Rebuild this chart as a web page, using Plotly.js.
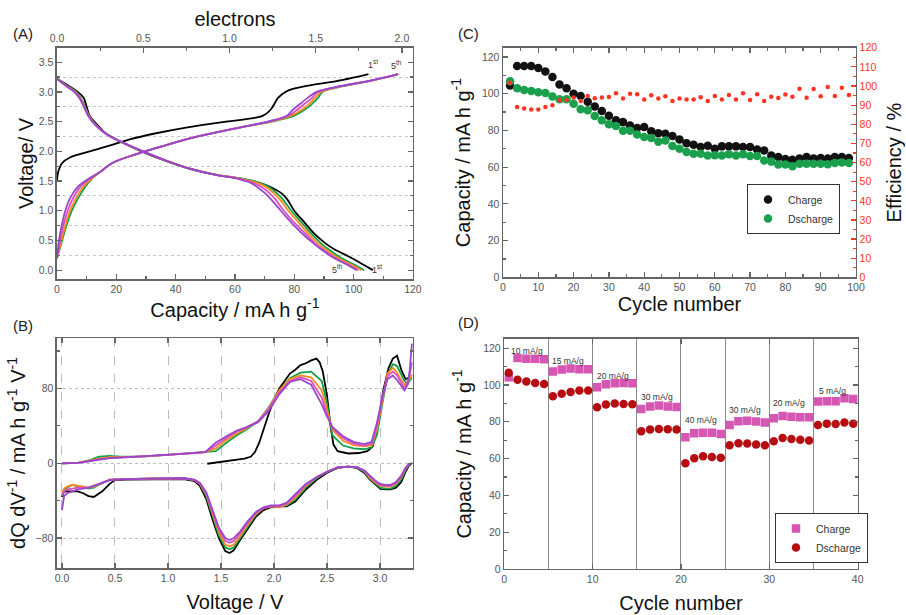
<!DOCTYPE html>
<html><head><meta charset="utf-8">
<script src="https://cdn.plot.ly/plotly-3.0.1.min.js"></script>
<style>html,body{margin:0;padding:0;background:#fff}#chart{width:906px;height:615px}</style>
</head><body><div id="chart"></div>
<script>
// ---------- Panel A : voltage profiles ----------
const cycleNames = ['1st','2nd','3rd','4th','5th'];
const cycleColors = ['#000000','#11a04a','#ff8a1c','#d94fc0','#9a46cc'];
const electronTicks = [0,0.5,1.0,1.5,2.0];
// discharge: shared voltage grid, capacity per cycle
const dischV = [3.22,3.1,3.0,2.9,2.75,2.6,2.45,2.3,2.15,2.0,1.85,1.7,1.6,1.55,1.5,1.45,1.4,1.3,1.2,1.0,0.8,0.6,0.45,0.35,0.2,0.1,0.0];
const dischCap1 = [0,4,7,9,10,11,13.5,16.5,22,28.5,36,45,54,61,66,69.5,72,75.5,77.5,80,83.5,87,90.5,93.5,99.5,103,106.5];
const dischCap2 = [0,3.5,6.5,8,9.5,10.8,13,16.5,22,29,36.5,45.5,54.5,61.5,66.5,69.5,71.5,74,76,79,82.5,86,89,91.5,96,100,103.5];
const dischCap3 = [0,3.3,6.2,7.8,9.3,10.7,13,16.5,22,29,36.5,45.5,54.5,61,65.5,68.5,70.5,73,75,78,81.5,85,88,90.5,95,99,102.5];
const dischCap4 = [0,3.2,6,7.6,9.2,10.6,12.9,16.4,22,29,36.5,45.5,54,60.5,64.5,67,69,71.5,73.5,76.5,80,84,87,89.5,94,98,101.5];
const dischCap5 = [0,3.1,5.8,7.5,9.1,10.5,12.8,16.3,22,29,36.5,45.5,54,60,63.5,66,67.5,70,72,75.5,79,83,86.5,89,93.5,97.5,101];
// charge of 1st cycle
const chg1V   = [1.5,1.65,1.8,1.9,2.0,2.1,2.2,2.3,2.4,2.5,2.55,2.6,2.7,2.8,2.9,3.0,3.05,3.1,3.2,3.3];
const chg1Cap = [0,0.4,1.7,4.5,11,18,24.5,33,43.5,57,65,69.5,72,73.3,74.5,77,79.5,84,96,105];
// charge of cycles 2-5: shared voltage grid
const chgV    = [0.2,0.4,0.6,0.8,1.0,1.2,1.4,1.55,1.65,1.8,1.95,2.1,2.25,2.4,2.5,2.6,2.7,2.8,2.9,3.0,3.1,3.2,3.3];
const chgCap2 = [0,1.2,2.3,3.5,5,7,9.5,12,14.5,18.5,26.5,36.5,47.5,61.5,72.5,80,83.5,86,88,89.5,97,107,115];
const chgCap3 = [0,1,2,3.1,4.4,6.3,8.8,11.8,14.5,18.5,26.5,36.5,47.5,61.5,72,79,82.5,85,87,89,96.5,106.8,115];
const chgCap4 = [0,0.7,1.5,2.4,3.6,5.3,7.9,11.5,14.5,18.5,26.5,36.5,47.5,61.5,71.5,78,81,83.5,86,88,96,106.6,115];
const chgCap5 = [0,0.4,1,1.8,2.8,4.3,7,11,14.5,18.5,26.5,36.5,47.5,61.5,71,77.5,79.5,82,84.5,87.5,96,106.5,115];

// ---------- Panel B : dQ/dV ----------
const bChgV = [0,0.15,0.25,0.35,0.45,0.55,0.8,1.0,1.2,1.35,1.45,1.55,1.65,1.75,1.85,1.95,2.05,2.15,2.25,2.35,2.45,2.5,2.55,2.65,2.75,2.85,2.92,2.97,3.02,3.07,3.12,3.16,3.2,3.23,3.26,3.28,3.3];
const bChg2 = [0,0.5,3,7,8,7,7.5,9,10.5,11.5,13,22,30,37,45,60,78,91,97,98,88,64,30,19,16,15,17,30,62,95,106,104,95,88,85,88,92];
const bChg3 = [0,0.5,2.5,5,6.5,6.5,7.5,9,10.5,12,16,25,32,38,45,59,78,90,94,92,78,56,36,24,19.5,18,19,36,68,96,102,97,89,84,86,90,95];
const bChg4 = [0,0.5,2,4.5,5.5,6,7.5,9,10.5,12,19,27,34,39,45,58,76,88,92,88,70,52,38,27,21,19,21,40,70,93,98,94,86,80,88,95,108];
const bChg5 = [0,0.5,2,4,5.5,6,7.5,9,10.5,12,22,29,35,39,44,56,74,87,90,84,63,50,39,29,23,20.5,23,43,70,90,94,89,83,78,84,100,128];
const bChg1V = [1.37,1.5,1.62,1.72,1.78,1.82,1.86,1.9,1.95,2.0,2.05,2.1,2.15,2.2,2.25,2.3,2.35,2.4,2.43,2.46,2.5,2.53,2.56,2.6,2.7,2.8,2.88,2.93,2.98,3.03,3.08,3.12,3.16,3.2,3.24,3.28];
const bChg1  = [-0.5,1.5,3.5,5,7,12,22,36,53,68,80,88,96,100,105,107,110,112,108,98,72,42,20,13,10.5,11,13,18,40,78,102,112,115,100,90,92];
const bDisV = [3.3,3.27,3.24,3.2,3.15,3.1,3.05,3.0,2.95,2.9,2.85,2.78,2.7,2.6,2.5,2.4,2.3,2.2,2.12,2.05,1.97,1.9,1.83,1.75,1.68,1.62,1.58,1.54,1.48,1.42,1.36,1.3,1.25,1.15,1.0,0.8,0.6,0.5,0.45,0.38,0.3,0.25,0.2,0.15,0.1,0.05,0.02,0.0];
const bDis1 = [0,-3,-9,-20,-26,-28,-28,-27,-22,-17,-10,-5,-3.5,-5,-10,-18,-28,-41,-46,-46,-47,-50,-57,-70,-82,-93,-96,-94,-80,-60,-38,-24,-19,-17,-17,-17.5,-17.5,-18,-22,-30,-36,-35,-32,-30,-30,-30,-30,-36];
const bDis2 = [0,-2,-7,-17,-24,-27,-27,-26,-21,-16,-9,-4.5,-3.5,-4.5,-9,-16,-26,-39,-45,-46,-46,-48,-55,-68,-80,-90,-92,-90,-77,-57,-35,-22,-18,-16,-16,-16.5,-17,-17,-18,-21,-26,-27,-25,-25,-23,-26,-28,-35];
const bDis3 = [0,-1.5,-6,-15,-22,-25,-25,-24,-20,-15,-8,-4,-3.5,-4.5,-9,-15,-24,-37,-44,-47,-46,-48,-54,-66,-78,-87,-89,-87,-74,-54,-33,-22,-18,-16,-16,-16.5,-17,-17,-17.5,-21,-25,-26,-25,-24,-23,-25,-27,-32];
const bDis4 = [0,-1.5,-5,-14,-21,-24,-24,-23,-19,-14,-8,-4,-3.5,-4.5,-9,-15,-23,-35,-43,-46,-46,-48,-53,-64,-75,-83,-85,-83,-71,-52,-32,-21,-18,-16,-16,-16.5,-17,-17,-17.5,-21,-24,-26,-26,-26,-27,-28,-30,-34];
const bDis5 = [0,-1,-5,-13,-20,-23,-23,-22,-18,-13,-7.5,-4,-3.5,-4.5,-9,-15,-22,-33,-42,-45,-45,-47,-52,-62,-73,-80,-82,-80,-69,-50,-31,-21,-17.5,-16,-16,-16.5,-17,-17.5,-18,-21,-24,-26,-27,-28,-30,-32,-35,-50];

// ---------- Panel C : cycling ----------
const cCycles = [2,4,6,8,10,12,14,16,18,20,22,24,26,28,30,32,34,36,38,40,42,44,46,48,50,52,54,56,58,60,62,64,66,68,70,72,74,76,78,80,82,84,86,88,90,92,94,96,98];
const cCharge = [104.5,115,115,115,114,112,109,105,103,100,98.7,95.6,93,90.5,88,85.5,84.5,82.7,81.3,81.8,79.5,78.5,78.2,77,75,73,72.2,71,71.6,70,71.3,71.3,71.3,71,71,69.6,69,66.4,65.5,64.4,64,64.7,65.5,64.7,65,64.7,65.5,65.5,65];
const cDischarge = [106.7,103,102,101.5,100.7,100.4,98.5,97,97,94.5,91.5,91,87.8,85.5,83.3,82.4,79.8,79.8,77.8,76.4,75.8,73.8,74.5,71.5,70,68.2,67.3,67.3,66.4,66.5,66.4,67,66.4,67,66,66,63.6,63,61.5,61.5,60.5,61.8,61.8,61.8,61.8,61.6,62.2,62.5,62.2];
const cEfficiency = [101.7,89,88.3,87.7,87.7,89,90,92.5,92.7,94,92.2,94.8,93.6,94,94.3,96.2,93.4,96,95.7,93,95.1,93.4,94.6,92.2,93.4,93,92.9,94.1,92.2,94.8,92.9,95.3,92.9,96.2,92.7,95.7,92.2,94.4,93.7,95.5,94.4,98.6,93.9,98.4,94.6,99.5,94.8,99.1,95.3];

// ---------- Panel D : rate capability ----------
const dCycles = [0.5,1.5,2.5,3.5,4.5,5.5,6.5,7.5,8.5,9.5,10.5,11.5,12.5,13.5,14.5,15.5,16.5,17.5,18.5,19.5,20.5,21.5,22.5,23.5,24.5,25.5,26.5,27.5,28.5,29.5,30.5,31.5,32.5,33.5,34.5,35.5,36.5,37.5,38.5,39.5];
const dCharge = [104.2,114.7,114.3,114.3,114,107.3,108.4,108.9,108.6,108.6,98.8,100.4,101,101.1,101,87,88.3,88.8,88.3,88.1,71.6,73.8,74.1,74,73.4,78.3,80.3,80.5,80.1,79.6,81.9,83.2,82.8,82.5,82.5,91,91.2,91.2,92.8,92.4];
const dDischarge = [106.6,102.8,101.9,101.1,100.6,93.9,95.2,96.2,97,97,87.9,89.4,89.9,89.7,89.5,74.9,75.8,76.1,75.9,75.8,57.5,60.2,61.3,60.9,60.5,67.2,68.3,68.2,67.6,67.2,69.4,71.2,70.7,70.3,69.8,78.3,79,78.8,79.6,79];
const rateLabels = ['10 mA/g','15 mA/g','20 mA/g','30 mA/g','40 mA/g','30 mA/g','20 mA/g','5 mA/g'];
const rateLabelX = [2.6,7.2,12.3,17.3,22.3,27.2,32.2,37.2];
const rateLabelY = [118.7,113,105,93.7,81.2,86.6,90.3,97];

// ---------- build ----------
const FONT = 'Liberation Sans, Arial, sans-serif';
const TICKC = '#555';
const LINEC = '#666';
const traces = [];
const dischCaps = [dischCap1,dischCap2,dischCap3,dischCap4,dischCap5];
const chgCaps = [chg1Cap,chgCap2,chgCap3,chgCap4,chgCap5];
// register the top "electrons" axis (no visible marks)
traces.push({x: electronTicks, y: electronTicks.map(()=>null), xaxis:'x2', yaxis:'y', mode:'lines', showlegend:false, hoverinfo:'skip', name:'electrons'});
for (let i = 0; i < 5; i++) {
  traces.push({x: dischCaps[i], y: dischV, xaxis:'x', yaxis:'y', mode:'lines', line:{color:cycleColors[i], width:1.8, shape:'spline'}, showlegend:false, name:cycleNames[i]+' discharge'});
  traces.push({x: chgCaps[i], y: i===0 ? chg1V : chgV, xaxis:'x', yaxis:'y', mode:'lines', line:{color:cycleColors[i], width:1.8, shape:'spline'}, showlegend:false, name:cycleNames[i]+' charge'});
}
const bChgs = [bChg1,bChg2,bChg3,bChg4,bChg5];
const bDiss = [bDis1,bDis2,bDis3,bDis4,bDis5];
for (let i = 0; i < 5; i++) {
  traces.push({x: i===0 ? bChg1V : bChgV, y: bChgs[i], xaxis:'x3', yaxis:'y3', mode:'lines', line:{color:cycleColors[i], width:1.8}, showlegend:false, name:cycleNames[i]+' charge'});
  traces.push({x: bDisV, y: bDiss[i], xaxis:'x3', yaxis:'y3', mode:'lines', line:{color:cycleColors[i], width:1.8}, showlegend:false, name:cycleNames[i]+' discharge'});
}
traces.push({x:cCycles, y:cEfficiency, xaxis:'x4', yaxis:'y5', mode:'markers', marker:{color:'#ff3322', size:4.5, symbol:'circle'}, showlegend:false, name:'Efficiency'});
traces.push({x:cCycles, y:cCharge, xaxis:'x4', yaxis:'y4', mode:'markers', marker:{color:'#111', size:8.5, symbol:'circle'}, name:'Charge', legend:'legend'});
traces.push({x:cCycles, y:cDischarge, xaxis:'x4', yaxis:'y4', mode:'markers', marker:{color:'#1aa04c', size:8.5, symbol:'circle'}, name:'Dscharge', legend:'legend'});
traces.push({x:dCycles, y:dCharge, xaxis:'x5', yaxis:'y6', mode:'markers', marker:{color:'#d656b4', size:8.5, symbol:'square'}, name:'Charge', legend:'legend2'});
traces.push({x:dCycles, y:dDischarge, xaxis:'x5', yaxis:'y6', mode:'markers', marker:{color:'#b50d12', size:8.5, symbol:'circle'}, name:'Dscharge', legend:'legend2'});

const tickF = {family:FONT, size:10.5, color:TICKC};
const titleF = {family:FONT, size:20, color:'#111'};
function ax(o){
  return Object.assign({showline:true, linecolor:LINEC, linewidth:1.5, ticks:'inside', ticklen:5, tickcolor:LINEC, tickwidth:1.2,
    tickfont:tickF, zeroline:false, showgrid:false, fixedrange:true}, o);
}
const dA = [0.0629,0.4558], dC = [0.5552,0.9448], dD = [0.5566,0.9467];
const layout = {
  width:906, height:615, margin:{l:0,r:0,t:0,b:0}, paper_bgcolor:'#fff', plot_bgcolor:'#fff',
  font:{family:FONT},
  xaxis: ax({domain:dA, anchor:'y', range:[0,120], dtick:20, minor:{dtick:10, ticks:'inside', ticklen:3, tickcolor:LINEC},
    title:{text:'Capacity / mA h g<sup>-1</sup>', font:titleF, standoff:4}}),
  xaxis2: ax({overlaying:'x', anchor:'y', side:'top', range:[0,2.064], dtick:0.5, tickformat:'.1f',
    minor:{dtick:0.25, ticks:'inside', ticklen:3, tickcolor:LINEC}, title:{text:'electrons', font:titleF, standoff:0}}),
  yaxis: ax({domain:[0.5463,0.922], anchor:'x', range:[-0.15,3.74], dtick:0.5, tickformat:'.1f', mirror:'ticks',
    minor:{dtick:0.25, ticks:'inside', ticklen:3, tickcolor:LINEC, showgrid:true, gridcolor:'#c8c8c8', griddash:'dot', gridwidth:1},
    title:{text:'Voltage/ V', font:titleF, standoff:0}}),
  xaxis3: ax({domain:dA, anchor:'y3', range:[-0.047,3.31], dtick:0.5, tickformat:'.1f', mirror:'ticks',
    showgrid:true, gridcolor:'#bdbdbd', griddash:'dash', gridwidth:1,
    title:{text:'Voltage / V', font:titleF, standoff:12}}),
  yaxis3: ax({domain:[0.0764,0.4504], anchor:'x3', range:[-112,134], dtick:80, mirror:'ticks',
    minor:{dtick:40, ticks:'inside', ticklen:3, tickcolor:LINEC},
    showgrid:true, gridcolor:'#bdbdbd', griddash:'dot', gridwidth:1,
    title:{text:'dQ dV<sup>-1</sup> / mA h g<sup>-1</sup> V<sup>-1</sup>', font:titleF, standoff:4}}),
  xaxis4: ax({domain:dC, anchor:'y4', range:[0,100], dtick:10, mirror:'ticks',
    minor:{dtick:5, ticks:'inside', ticklen:3, tickcolor:LINEC},
    title:{text:'Cycle number', font:titleF, standoff:4}}),
  yaxis4: ax({domain:[0.549,0.9224], anchor:'x4', range:[0,125], dtick:20,
    minor:{dtick:10, ticks:'inside', ticklen:3, tickcolor:LINEC},
    title:{text:'Capacity / mA h g<sup>-1</sup>', font:titleF, standoff:6}}),
  yaxis5: ax({overlaying:'y4', anchor:'x4', side:'right', range:[0,120], dtick:10,
    tickcolor:'#ff3322', tickfont:{family:FONT, size:10.5, color:'#ff3322'},
    minor:{dtick:5, ticks:'inside', ticklen:3, tickcolor:'#ff3322'},
    title:{text:'Efficiency / %', font:titleF, standoff:10}}),
  xaxis5: ax({domain:dD, anchor:'y6', range:[0,40], dtick:10, mirror:'ticks',
    showgrid:true, gridcolor:'#8a8a8a', gridwidth:1,
    minor:{dtick:5, showgrid:true, gridcolor:'#8a8a8a', gridwidth:1, ticks:''},
    title:{text:'Cycle number', font:titleF, standoff:12}}),
  yaxis6: ax({domain:[0.0748,0.4488], anchor:'x5', range:[0,125], dtick:20, mirror:'ticks',
    minor:{dtick:10, ticks:'inside', ticklen:3, tickcolor:LINEC},
    title:{text:'Capacity / mA h g<sup>-1</sup>', font:titleF, standoff:6}}),
  legend: {x:0.8245, y:1-184/615, xanchor:'left', yanchor:'top', bgcolor:'#fff', bordercolor:'#333', borderwidth:1,
    font:{family:FONT, size:10.5, color:'#333'}, itemwidth:30, tracegroupgap:0},
  legend2: {x:0.8554, y:1-513/615, xanchor:'left', yanchor:'top', bgcolor:'#fff', bordercolor:'#333', borderwidth:1,
    font:{family:FONT, size:10.5, color:'#333'}, itemwidth:30, tracegroupgap:0},
  annotations: []
};
const panelF = {family:FONT, size:15, color:'#222'};
[['(A)',23,33],['(B)',23,325],['(C)',468,33],['(D)',468,323]].forEach(p=>{
  layout.annotations.push({text:p[0], xref:'paper', yref:'paper', x:p[1]/906, y:1-p[2]/615, showarrow:false, font:panelF, xanchor:'center', yanchor:'middle'});
});
const ordF = {family:FONT, size:9, color:'#333'};
[['1<sup>st</sup>',106.5,3.47],['5<sup>th</sup>',114.5,3.46],['5<sup>th</sup>',94.5,0.02],['1<sup>st</sup>',108,0.02]].forEach(p=>{
  layout.annotations.push({text:p[0], xref:'x', yref:'y', x:p[1], y:p[2], showarrow:false, font:ordF});
});
rateLabels.forEach((t,i)=>{
  layout.annotations.push({text:t, xref:'x5', yref:'y6', x:rateLabelX[i], y:rateLabelY[i], showarrow:false, font:{family:FONT, size:8.5, color:'#333'}});
});
Plotly.newPlot('chart', traces, layout, {staticPlot:true, displayModeBar:false});
</script></body></html>
